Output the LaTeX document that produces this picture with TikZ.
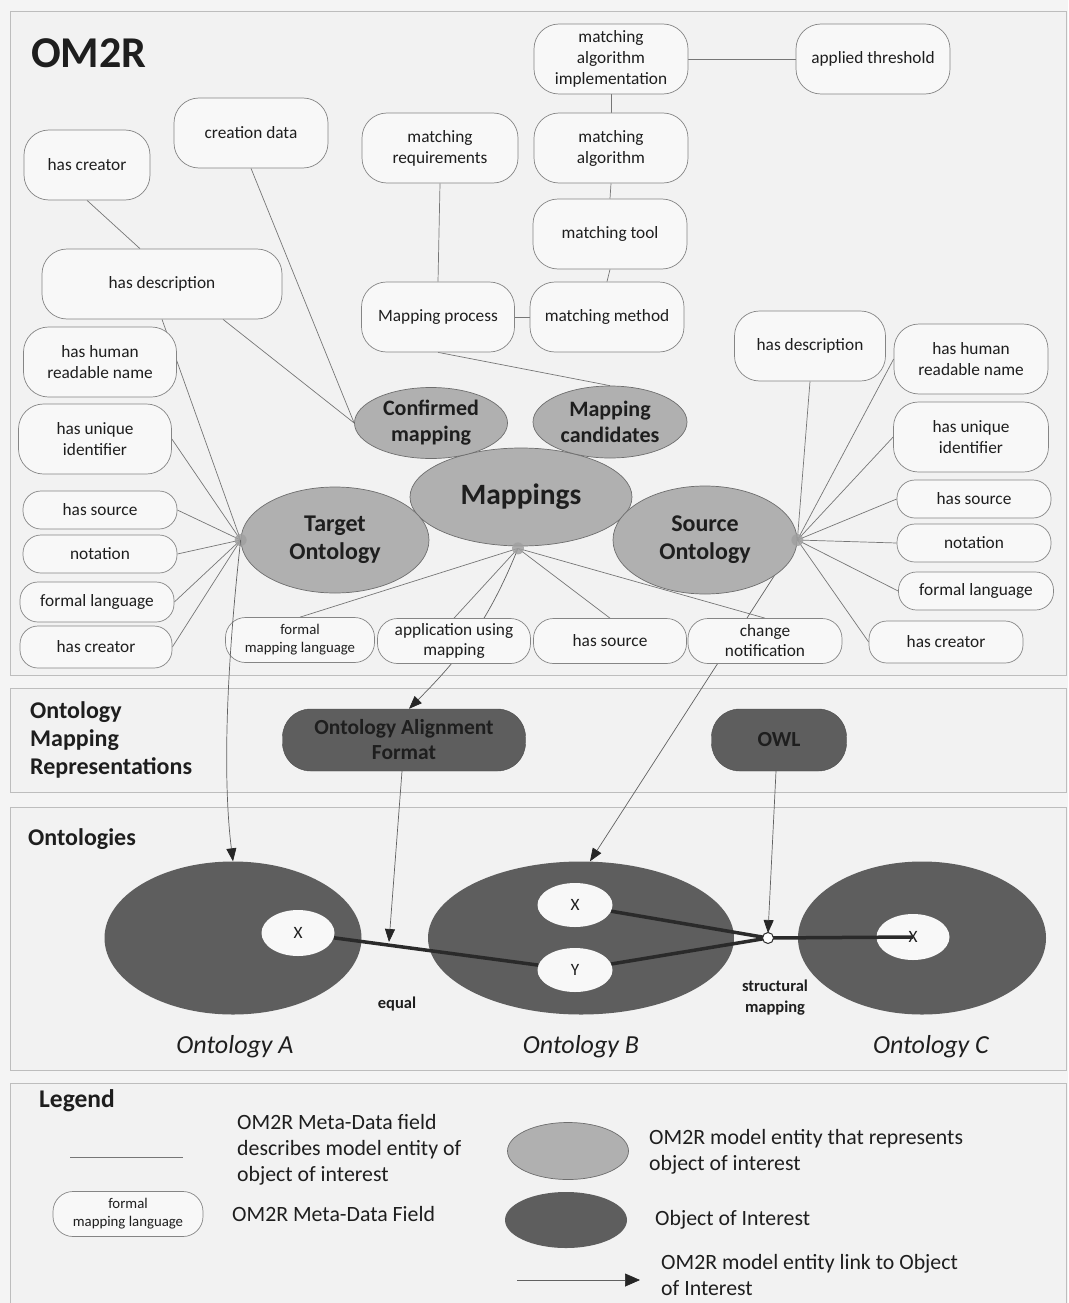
\documentclass[tikz,border=0pt]{standalone}
\usepackage{fontspec}
\setmainfont{Carlito}
\usetikzlibrary{shapes.geometric,arrows.meta,calc}
\definecolor{pagebg}{HTML}{F4F4F4}
\definecolor{panelbg}{HTML}{F2F2F2}
\definecolor{panelln}{HTML}{BDBDBD}
\definecolor{boxln}{HTML}{858585}
\definecolor{boxfill}{HTML}{F8F8F8}
\definecolor{edgec}{HTML}{767676}
\definecolor{entfill}{HTML}{B0B0B0}
\definecolor{entln}{HTML}{6E6E6E}
\definecolor{objfill}{HTML}{5E5E5E}
\definecolor{txt}{HTML}{1E1E1E}
\definecolor{thickc}{HTML}{2A2A2A}
\definecolor{hubc}{HTML}{A0A0A0}
\newcommand\myfs[2]{\fontsize{#1}{#2}\selectfont}
\pgfdeclarelayer{bg}\pgfdeclarelayer{edges}\pgfsetlayers{bg,edges,main}
\tikzset{
  fld/.style={draw=boxln, fill=boxfill, line width=0.7pt, rounded corners=25pt, minimum height=70pt, inner sep=0pt, align=center, font=\myfs{17.3}{21}, text=txt},
  fldS/.style={fld, rounded corners=18pt, minimum height=38pt},
  fldM/.style={fld, rounded corners=20pt, minimum height=45pt, font=\myfs{17.3}{20}},
  ent/.style={ellipse, draw=entln, fill=entfill, line width=0.7pt, inner sep=0pt, align=center, font=\bfseries\myfs{22}{26}, text=txt},
  obj/.style={ellipse, fill=objfill, inner sep=0pt},
  innerell/.style={ellipse, fill=boxfill, inner sep=0pt, font=\myfs{17.3}{21}, minimum width=73pt, minimum height=46pt, text=txt},
  rep/.style={draw=objfill!80!black, fill=objfill, rounded corners=28pt, minimum height=62pt, inner sep=0pt, align=center, font=\bfseries\myfs{21.5}{25}, text=txt},
  conn/.style={draw=edgec, line width=0.7pt},
  linkar/.style={draw=black!62, line width=0.7pt, -{Triangle[length=13pt,width=10pt,color=black!85]}},
  hub/.style={circle, fill=hubc, minimum size=12pt, inner sep=0pt, opacity=0.85},
  heavy/.style={draw=thickc, line width=3.5pt},
  lbl/.style={inner sep=0pt, anchor=west, align=left, text=txt},
}
\begin{document}
\begin{tikzpicture}[x=1pt,y=-1pt]
\useasboundingbox (0,0) rectangle (1068,1303);
\begin{pgfonlayer}{bg}
\fill[pagebg] (0,0) rectangle (1068,1303);
\draw[panelln, fill=panelbg] (10,11) rectangle (1066,675);
\draw[panelln, fill=panelbg] (10,688) rectangle (1066,792);
\draw[panelln, fill=panelbg] (10,807) rectangle (1066,1070);
\draw[panelln, fill=panelbg] (10,1083) rectangle (1066,1320);
\end{pgfonlayer}

% title
\node[lbl, font=\bfseries\myfs{44}{48}] (ttl) at (31,53) {OM2R};

% meta-data fields
\node[fld, minimum width=154pt] (mai) at (611,59) {matching\\algorithm\\implementation};
\node[fld, minimum width=154pt] (thr) at (873,59) {applied threshold};
\node[fld, minimum width=154pt] (cd) at (251,133) {creation data};
\node[fld, minimum width=126pt] (hc1) at (87,165) {has creator};
\node[fld, minimum width=156pt] (mreq) at (440,148) {matching\\requirements};
\node[fld, minimum width=154pt] (malg) at (611,148) {matching\\algorithm};
\node[fld, minimum width=154pt] (mtool) at (610,234) {matching tool};
\node[fld, minimum width=240pt] (hd1) at (162,284) {has description};
\node[fld, minimum width=153pt] (mproc) at (438,317) {Mapping process};
\node[fld, minimum width=154pt] (mmeth) at (607,317) {matching method};
\node[fld, minimum width=153pt] (hn1) at (100,362) {has human\\readable name};
\node[fld, minimum width=153pt] (hu1) at (95,439) {has unique\\identifier};
\node[fldS, minimum width=154pt] (hs1) at (100,510) {has source};
\node[fldS, minimum width=154pt] (no1) at (100,554) {notation};
\node[fldS, minimum width=154pt, minimum height=40pt] (fl1) at (97,602) {formal language};
\node[fldS, minimum width=152pt, minimum height=42pt] (hc2) at (96,647) {has creator};
\node[fld, minimum width=151pt] (hd2) at (810,346) {has description};
\node[fld, minimum width=154pt] (hn2) at (971,359) {has human\\readable name};
\node[fld, minimum width=155pt] (hu2) at (971,437) {has unique\\identifier};
\node[fldS, minimum width=154pt] (hs2) at (974,499) {has source};
\node[fldS, minimum width=154pt] (no2) at (974,543) {notation};
\node[fldS, minimum width=155pt] (fl2) at (976,591) {formal language};
\node[fldS, minimum width=154pt, minimum height=42pt] (hc3) at (946,642) {has creator};
\node[fldM, minimum width=149pt, font=\myfs{14.8}{18}] (fml) at (300,640) {formal\\mapping language};
\node[fldM, minimum width=153pt] (app) at (454,641) {application using\\mapping};
\node[fldM, minimum width=153pt] (hs3) at (610,641) {has source};
\node[fldM, minimum width=154pt] (chn) at (765,641) {change\\notification};

% model entities
\node[ent, minimum width=222pt, minimum height=98pt, font=\bfseries\myfs{29.5}{32}] (mp) at (521,497) {Mappings};
\node[ent, minimum width=153pt, minimum height=71pt] (cm) at (431,423) {Confirmed\\mapping};
\node[ent, minimum width=154pt, minimum height=72pt] (mc) at (610,422) {Mapping\\candidates};
\node[ent, minimum width=188pt, minimum height=106pt, font=\bfseries\myfs{24}{28}] (to) at (335,540) {Target\\Ontology};
\node[ent, minimum width=184pt, minimum height=108pt, font=\bfseries\myfs{24}{28}] (so) at (705,540) {Source\\Ontology};

\node[hub] (thub) at (to.west) {};
\node[hub] (mhub) at ($(mp.south)+(-3,2)$) {};
\node[hub] (shub) at (so.east) {};

\begin{pgfonlayer}{edges}
% top chain
\draw[conn] (mai.east) -- (thr.west);
\draw[conn] (mai.south) -- (malg.north);
\draw[conn] (malg.south) -- (mtool.north);
\draw[conn] (mtool.south) -- (mmeth.north);
\draw[conn] (mproc.east) -- (mmeth.west);
\draw[conn] (mreq.south) -- (mproc.north);
\draw[conn] (mproc.south) -- (mc.north);
\draw[conn] (hc1.south) -- ($(hd1.north)+(-22,0)$);
\draw[conn] (cd.south) -- (cm.west);
\draw[conn] ($(hd1.south)+(61,0)$) -- (cm.west);
% target hub
\draw[conn] (thub.center) -- (hd1.south);
\draw[conn] (thub.center) -- (hu1.east);
\draw[conn] (thub.center) -- (hs1.east);
\draw[conn] (thub.center) -- (no1.east);
\draw[conn] (thub.center) -- (fl1.east);
\draw[conn] (thub.center) -- (hc2.east);
% source hub
\draw[conn] (shub.center) -- (hd2.south);
\draw[conn] (shub.center) -- (hn2.west);
\draw[conn] (shub.center) -- (hu2.west);
\draw[conn] (shub.center) -- (hs2.west);
\draw[conn] (shub.center) -- (no2.west);
\draw[conn] (shub.center) -- (fl2.west);
\draw[conn] (shub.center) -- (hc3.west);
% mappings hub
\draw[conn] (mhub.center) -- (fml.north);
\draw[conn] (mhub.center) -- (app.north);
\draw[conn] (mhub.center) -- (hs3.north);
\draw[conn] (mhub.center) -- (chn.north);
\end{pgfonlayer}

% representations
\node[lbl, font=\bfseries\myfs{24}{28}] (omrt) at (30,740) {Ontology\\Mapping\\Representations};
\node[rep, minimum width=243pt] (oaf) at (404,740) {Ontology Alignment\\Format};
\node[rep, minimum width=135pt] (owl) at (779,740) {OWL};

% ontologies
\node[lbl, font=\bfseries\myfs{24}{28}] (ontt) at (28,839) {Ontologies};
\node[obj, minimum width=257pt, minimum height=153pt] (oa) at (233,938) {};
\node[obj, minimum width=306pt, minimum height=153pt] (ob) at (581,938) {};
\node[obj, minimum width=248pt, minimum height=153pt] (oc) at (922,938) {};
\node[innerell] (ax) at (298,933) {X};
\node[innerell, minimum width=75pt, minimum height=44pt] (bx) at (575,905) {X};
\node[innerell, minimum width=75pt, minimum height=44pt] (by) at (575,970) {Y};
\node[innerell] (cx) at (913,937) {X};
\coordinate (ptc) at (768,938);
\coordinate (eqpt) at (389,942);
\draw[heavy] (ax) -- (by);
\draw[heavy] (bx) -- (ptc);
\draw[heavy] (by) -- (ptc);
\draw[heavy] (ptc) -- (cx.center);
\node[circle, draw=thickc, fill=white, line width=1pt, minimum size=11pt, inner sep=0pt] (pt) at (ptc) {};

\begin{pgfonlayer}{edges}
\draw[linkar] (mhub.center) to[out=-112,in=45] ($(oaf.north)+(5,0)$);
\draw[linkar] (shub.center) -- ($(ob.north)+(9,0)$);
\draw[linkar] ($(oaf.south)+(-2,0)$) -- (eqpt);
\draw[linkar] ($(owl.south)+(-3,0)$) -- ($(ptc)+(0,-5)$);
\end{pgfonlayer}

\draw[linkar] (thub.center) .. controls (224,690) and (224,790) .. (oa.north);

\node[font=\bfseries\myfs{16.5}{21}, text=txt] (eql) at (397,1004) {equal};
\node[font=\bfseries\myfs{16.5}{21}, align=center, text=txt] (stm) at (775,998) {structural\\mapping};
\node[font=\itshape\myfs{26}{30}, text=txt] (lbA) at (235,1047) {Ontology A};
\node[font=\itshape\myfs{26}{30}, text=txt] (lbB) at (581,1047) {Ontology B};
\node[font=\itshape\myfs{26}{30}, text=txt] (lbC) at (931,1047) {Ontology C};

% legend
\node[lbl, font=\bfseries\myfs{25.5}{28}] (leg) at (39,1101) {Legend};
\coordinate (ll1) at (70,1157);
\coordinate (ll2) at (183,1157);
\draw[conn] (ll1) -- (ll2);
\node[lbl, font=\myfs{21.8}{26}] (lt1) at (237,1150) {OM2R Meta-Data field\\describes model entity of\\object of interest};
\node[fldM, minimum width=150pt, font=\myfs{14.8}{18}] (lbox) at (128,1214) {formal\\mapping language};
\node[lbl, font=\myfs{21.8}{26}] (lt2) at (232,1214) {OM2R Meta-Data Field};
\node[ent, minimum width=121pt, minimum height=57pt] (le1) at (568,1151) {};
\node[lbl, font=\myfs{21.8}{26}] (lt3) at (649,1152) {OM2R model entity that represents\\object of interest};
\node[obj, minimum width=122pt, minimum height=56pt] (le2) at (566,1220) {};
\node[lbl, font=\myfs{21.8}{26}] (lt4) at (655,1220) {Object of Interest};
\coordinate (la1) at (517,1280);
\coordinate (la2) at (640,1280);
\draw[draw=black!62, line width=0.7pt, -{Triangle[length=15pt,width=13pt,color=black!85]}] (la1) -- (la2);
\node[lbl, font=\myfs{21.8}{26}] (lt5) at (661,1275) {OM2R model entity link to Object\\of Interest};
\end{tikzpicture}
\end{document}
